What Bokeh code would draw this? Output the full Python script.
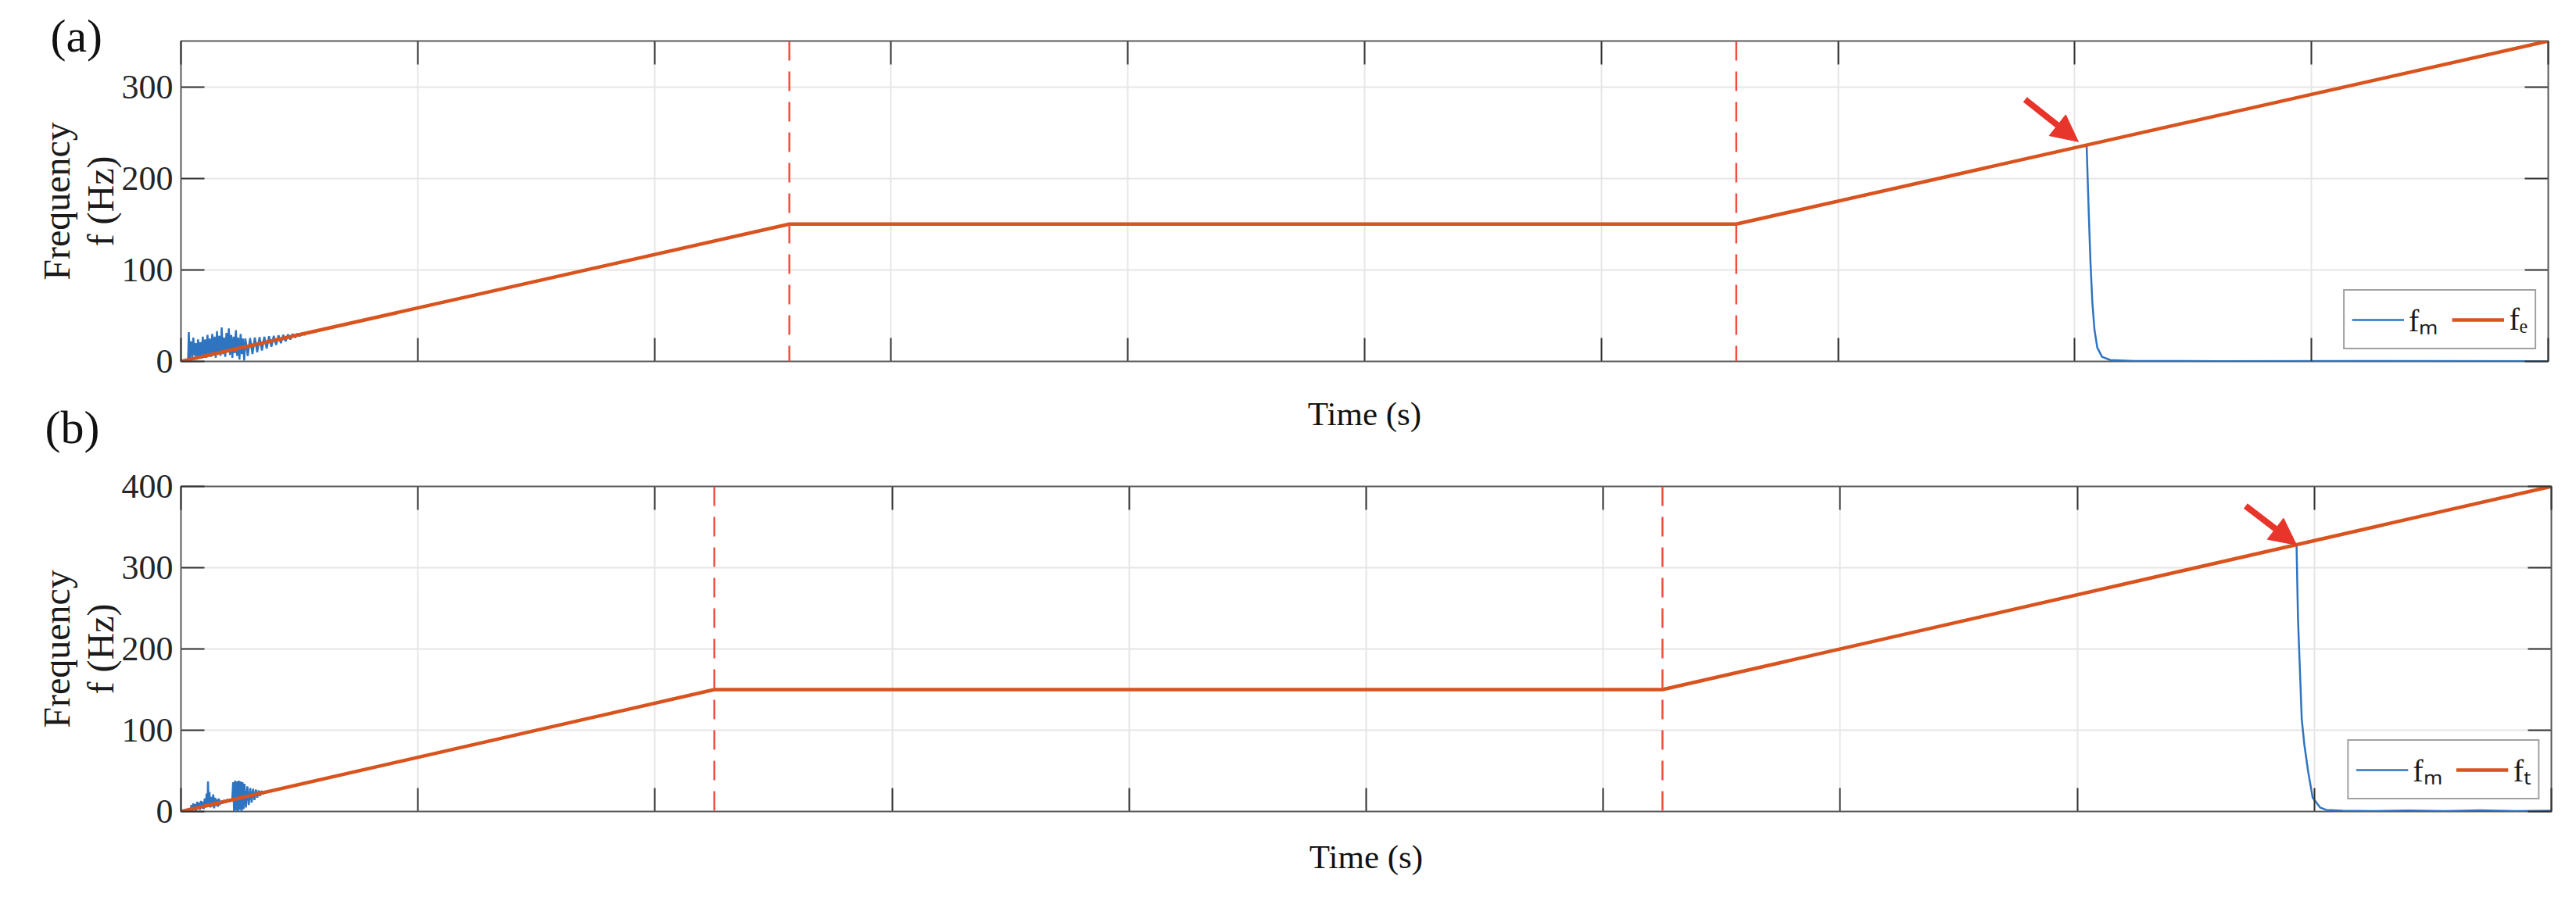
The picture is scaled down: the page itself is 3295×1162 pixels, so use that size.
from bokeh.plotting import figure
from bokeh.models import (Range1d, FixedTicker, LinearAxis, Span, Arrow, NormalHead,
                          Legend, LegendItem, CustomJSTickFormatter, Title)
from bokeh.layouts import column
from bokeh.embed import file_html
from bokeh.resources import INLINE

FONT = "Liberation Serif"
BLUE = "#2f74c0"
ORANGE = "#d9531e"
DASH_RED = "#f04e40"
ARROW_RED = "#e8352b"
TICK_COL = "#333333"

# ---------------- data ----------------
time_ticks = [0, 1, 2, 3, 4, 5, 6, 7, 8, 9, 10]
freq_ticks_a = [0, 100, 200, 300]
freq_ticks_b = [0, 100, 200, 300, 400]
x_span = [0, 10]
y_span_a = [0, 350]
y_span_b = [0, 400]

# panel (a): reference f_e
fe_t = [0, 2.57, 6.57, 10]
fe_f = [0, 150, 150, 350]
dash_a = [2.57, 6.57]

# panel (a): measured frequency f_m
fm_a_t = [0.030, 0.033, 0.037, 0.042, 0.047, 0.052, 0.057, 0.062, 0.067, 0.072,
          0.077, 0.082, 0.087, 0.092, 0.097, 0.102, 0.107, 0.112, 0.117, 0.122,
          0.127, 0.132, 0.137, 0.142, 0.147, 0.152, 0.157, 0.162, 0.167, 0.172,
          0.177, 0.182, 0.187, 0.192, 0.197, 0.202, 0.207, 0.212, 0.217, 0.222,
          0.227, 0.232, 0.237, 0.242, 0.247, 0.252, 0.257, 0.262, 0.267, 0.272,
          0.282, 0.292, 0.302, 0.312, 0.322, 0.332, 0.342, 0.352, 0.362, 0.372,
          0.382, 0.392, 0.402, 0.412, 0.422, 0.432, 0.442, 0.452, 0.462, 0.472,
          0.482, 0.492, 0.502, 0.512, 0.522, 0.532, 0.542, 0.555,
          2.57, 6.57,
          8.05, 8.059, 8.066, 8.074, 8.083, 8.095, 8.115, 8.15, 8.25,
          8.6, 9.2, 10.0]
fm_a_f = [0, 32, 4, 22, 3, 26, 6, 20, 2, 24,
          5, 21, 3, 27, 6, 24, 4, 29, 7, 25,
          5, 30, 8, 27, 4, 33, 9, 28, 6, 37,
          8, 26, 5, 31, 10, 36, 7, 29, 4, 27,
          9, 34, 6, 26, 2, 30, 8, 25, 1, 25,
          6, 25.5, 8, 26, 10, 26.5, 12, 27, 14, 27.5,
          16, 28, 18, 28.5, 20, 29, 22, 29.5, 24, 30,
          26, 30.5, 27.5, 31, 29, 31.5, 30.5, 32.4,
          150, 150,
          236, 162, 110, 65, 35, 15, 5, 1.5, 0.5,
          0.3, 0.4, 0.3]
arrow_a_x = [7.79, 8.015]
arrow_a_y = [286, 240]

# panel (b): reference f_t
ft_t = [0, 2.25, 6.25, 10]
ft_f = [0, 150, 150, 400]
dash_b = [2.25, 6.25]

fm_b_t = [0.040, 0.044, 0.048, 0.052, 0.056, 0.060, 0.064, 0.068, 0.072, 0.076,
          0.080, 0.084, 0.088, 0.092, 0.096, 0.100, 0.104, 0.108, 0.112, 0.114,
          0.117, 0.120, 0.124, 0.128, 0.132, 0.136, 0.140, 0.144, 0.148, 0.152,
          0.156, 0.160, 0.164, 0.168, 0.175, 0.182, 0.189, 0.196, 0.203, 0.210,
          0.216, 0.220, 0.224, 0.228, 0.232, 0.236, 0.240, 0.244, 0.248, 0.252,
          0.256, 0.260, 0.264, 0.268, 0.274, 0.280, 0.286, 0.292, 0.298, 0.304,
          0.310, 0.316, 0.322, 0.328, 0.334, 0.340, 0.346, 0.352, 0.360,
          2.25, 6.25,
          8.925, 8.931, 8.947, 8.958, 8.974, 8.993, 9.024, 9.05,
          9.12, 9.25, 9.4, 9.55, 9.7, 9.85, 10.0]
fm_b_f = [0, 8, 1, 10, 2, 9, 1, 12, 3, 11,
          2, 13, 4, 12, 3, 16, 5, 22, 6, 37,
          7, 24, 5, 18, 6, 21, 4, 17, 7, 15,
          6, 16, 8, 13, 10, 14, 11, 15, 12, 15,
          13, 36, 0, 38, 1, 37, 0, 38, 2, 37,
          0, 36, 3, 34, 5, 31, 8, 29, 11, 28,
          14, 27, 17, 26, 19, 25.5, 21.5, 24.5, 24,
          150, 150,
          328, 238, 113, 82, 49, 17, 5, 2,
          1, 0.4, 1.2, 0.5, 1.4, 0.6, 1]
arrow_b_x = [8.71, 8.925]
arrow_b_y = [376, 328]

assert len(fm_a_t) == len(fm_a_f)
assert len(fm_b_t) == len(fm_b_f)

EMPTY = CustomJSTickFormatter(code="return ''")


def tick_axis(ticks):
    return LinearAxis(ticker=FixedTicker(ticks=ticks), formatter=EMPTY,
                      major_tick_in=30, major_tick_out=0,
                      minor_tick_line_color=None, axis_line_color=None,
                      major_tick_line_color=TICK_COL, major_tick_line_width=2,
                      major_label_text_font_size="1px", major_label_standoff=0)


def make_panel(frame_w, frame_h, left, top, bottom, yr, yticks,
               t_ref, f_ref, t_m, f_m, dashes, arr_x, arr_y, ref_label,
               tag, tag_offset, tag_standoff, tag_valign, xlabel_standoff, margin):
    p = figure(frame_width=frame_w, frame_height=frame_h,
               min_border_left=left, min_border_right=12,
               min_border_top=top, min_border_bottom=bottom,
               x_range=Range1d(*x_span), y_range=Range1d(*yr),
               output_backend="svg", toolbar_location=None,
               background_fill_color="white", border_fill_color=None,
               margin=margin)
    p.outline_line_color = "#5a5a5a"
    p.outline_line_width = 2

    p.title = Title(text=tag, align="left", offset=tag_offset, standoff=tag_standoff,
                    vertical_align=tag_valign,
                    text_font=FONT, text_font_size="60px", text_font_style="normal",
                    text_color="#111111")

    xa = p.xaxis[0]
    xa.ticker = FixedTicker(ticks=time_ticks)
    xa.formatter = EMPTY
    xa.major_tick_in = 30
    xa.major_tick_out = 0
    xa.minor_tick_line_color = None
    xa.axis_line_color = None
    xa.major_tick_line_color = TICK_COL
    xa.major_tick_line_width = 2
    xa.major_label_text_font_size = "1px"
    xa.major_label_standoff = 0
    xa.axis_label = "Time (s)"
    xa.axis_label_text_font = FONT
    xa.axis_label_text_font_size = "43px"
    xa.axis_label_text_font_style = "normal"
    xa.axis_label_text_color = "#111111"
    xa.axis_label_standoff = xlabel_standoff

    ya = p.yaxis[0]
    ya.ticker = FixedTicker(ticks=yticks)
    ya.major_tick_in = 30
    ya.major_tick_out = 0
    ya.minor_tick_line_color = None
    ya.axis_line_color = None
    ya.major_tick_line_color = TICK_COL
    ya.major_tick_line_width = 2
    ya.major_label_text_font = FONT
    ya.major_label_text_font_size = "44px"
    ya.major_label_text_color = "#262626"
    ya.major_label_standoff = 10
    ya.axis_label = "Frequency\nf (Hz)"
    ya.axis_label_text_font = FONT
    ya.axis_label_text_font_size = "48px"
    ya.axis_label_text_line_height = 1.05
    ya.axis_label_text_font_style = "normal"
    ya.axis_label_text_color = "#1a1a1a"
    ya.axis_label_standoff = -2

    p.add_layout(tick_axis(time_ticks), "above")
    p.add_layout(tick_axis(yticks), "right")

    p.xgrid.grid_line_color = "#e6e6e6"
    p.xgrid.grid_line_width = 2
    p.ygrid.grid_line_color = "#e6e6e6"
    p.ygrid.grid_line_width = 2

    for d in dashes:
        p.add_layout(Span(location=d, dimension="height", line_color=DASH_RED,
                          line_width=2.5, line_dash="25 14"))

    r_m = p.line(t_m, f_m, line_color=BLUE, line_width=2.5)
    r_ref = p.line(t_ref, f_ref, line_color=ORANGE, line_width=4.5)

    p.add_layout(Arrow(end=NormalHead(size=34, fill_color=ARROW_RED, line_color=ARROW_RED),
                       x_start=arr_x[0], y_start=arr_y[0], x_end=arr_x[1], y_end=arr_y[1],
                       line_color=ARROW_RED, line_width=8))

    legend = Legend(items=[LegendItem(label="f\u2098", renderers=[r_m]),
                           LegendItem(label=ref_label, renderers=[r_ref])],
                    orientation="horizontal", location="bottom_right",
                    glyph_width=67, glyph_height=34, label_standoff=6, spacing=18,
                    padding=9, margin=15,
                    label_text_font=FONT, label_text_font_size="40px",
                    label_text_color="#1a1a1a",
                    border_line_color="#444444", border_line_width=2,
                    background_fill_color="white", background_fill_alpha=1)
    p.add_layout(legend)
    return p


pa = make_panel(3028, 410, 224, 52, 96, y_span_a, freq_ticks_a,
                fe_t, fe_f, fm_a_t, fm_a_f, dash_a, arrow_a_x, arrow_a_y, "f\u2091",
                "(a)", -167, -52, "bottom", 43, (0, 0, 0, 0))
pb = make_panel(3032, 416, 231, 20, 88, y_span_b, freq_ticks_b,
                ft_t, ft_f, fm_b_t, fm_b_f, dash_b, arrow_b_x, arrow_b_y, "f\u209c",
                "(b)", -174, 82, "top", 34, (-86, 0, 0, 0))

layout = column(pa, pb, spacing=0)
open("out.html", "w").write(file_html(layout, INLINE))
